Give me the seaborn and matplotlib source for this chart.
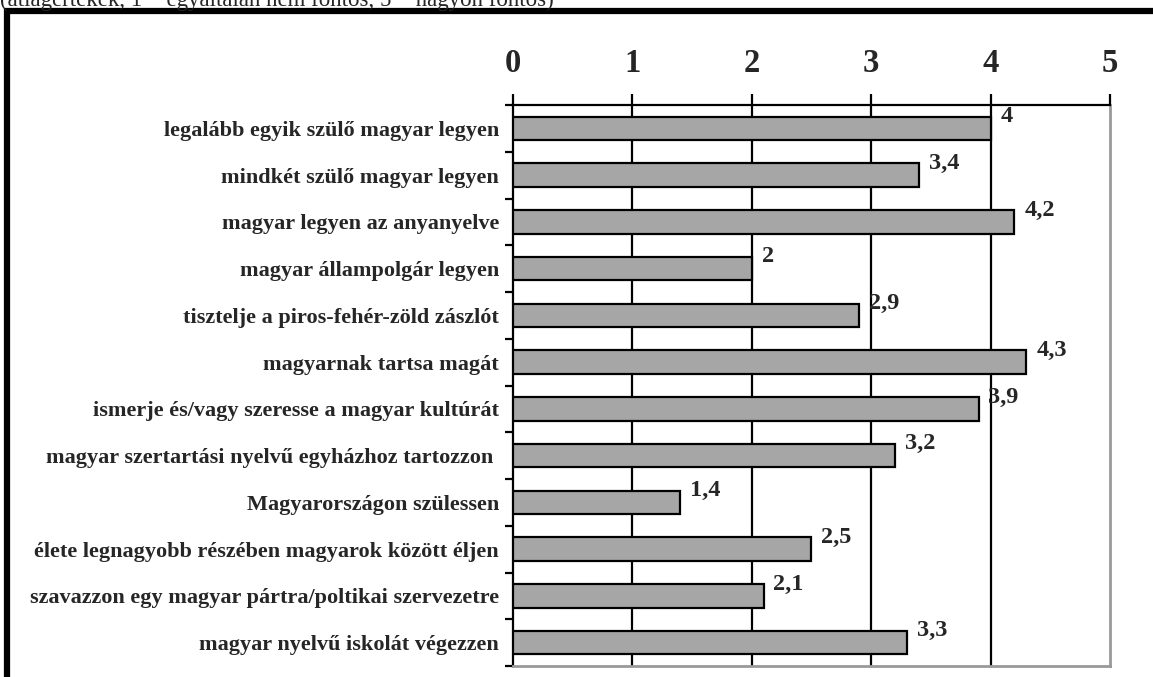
import matplotlib
matplotlib.use("Agg")
import matplotlib.pyplot as plt
import seaborn as sns
import pandas as pd
from matplotlib.patches import Rectangle
from matplotlib.ticker import FixedLocator

categories = [
    "legalább egyik szülő magyar legyen",
    "mindkét szülő magyar legyen",
    "magyar legyen az anyanyelve",
    "magyar állampolgár legyen",
    "tisztelje a piros-fehér-zöld zászlót",
    "magyarnak tartsa magát",
    "ismerje és/vagy szeresse a magyar kultúrát",
    "magyar szertartási nyelvű egyházhoz tartozzon ",
    "Magyarországon szülessen",
    "élete legnagyobb részében magyarok között éljen",
    "szavazzon egy magyar pártra/poltikai szervezetre",
    "magyar nyelvű iskolát végezzen",
]
values = [4, 3.4, 4.2, 2, 2.9, 4.3, 3.9, 3.2, 1.4, 2.5, 2.1, 3.3]
value_labels = ["4", "3,4", "4,2", "2", "2,9", "4,3", "3,9", "3,2", "1,4", "2,5", "2,1", "3,3"]
x_ticks = [0, 1, 2, 3, 4, 5]
caption = "(átlagértékek, 1 = egyáltalán nem fontos, 5 = nagyon fontos)"

sns.set_theme(style="white")
plt.rcParams['font.family'] = ['Liberation Serif', 'DejaVu Serif']

W, H = 1153, 677
fig = plt.figure(figsize=(W / 100, H / 100), dpi=100)
ax = fig.add_axes([513 / W, 1 - 666 / H, (1110 - 513) / W, (666 - 105) / H])

df = pd.DataFrame({"cat": categories, "val": values})
sns.barplot(data=df, y="cat", x="val", orient="h", color="#a6a6a6",
            saturation=1, edgecolor="black", linewidth=1.6, width=0.5, ax=ax, zorder=3)

ax.set_xlim(0, 5)
ax.set_ylim(len(categories) - 0.5, -0.5)
ax.set_xlabel("")
ax.set_ylabel("")

# vertical gridlines
for t in x_ticks[1:-1]:
    ax.axvline(t, color="black", lw=1.6, zorder=1)

# x axis on top
ax.xaxis.tick_top()
ax.set_xticks(x_ticks)
ax.set_xticklabels([str(t) for t in x_ticks], fontsize=23.5, fontweight="bold")
ax.tick_params(axis="x", which="major", direction="out", length=8, width=1.6,
               color="black", pad=11, bottom=False, top=True)

# y axis: labels at centers, ticks at boundaries
ax.set_yticks(range(len(categories)))
ax.set_yticklabels(categories, fontsize=16, fontweight="bold")
ax.tick_params(axis="y", which="major", length=0, pad=10, left=True)
ax.yaxis.set_minor_locator(FixedLocator([i - 0.5 for i in range(len(categories) + 1)]))
ax.tick_params(axis="y", which="minor", direction="out", length=6, width=1.6,
               color="black", left=True)

for s in ["top", "left"]:
    ax.spines[s].set_color("black")
    ax.spines[s].set_linewidth(1.6)
    ax.spines[s].set_visible(True)
for s in ["right", "bottom"]:
    ax.spines[s].set_color("#999999")
    ax.spines[s].set_linewidth(2)
    ax.spines[s].set_visible(True)

for i, (v, lab) in enumerate(zip(values, value_labels)):
    ax.annotate(lab, xy=(v, i - 0.25), xytext=(7, 0), textcoords="offset points",
                ha="left", va="center", fontsize=17.5, fontweight="bold", zorder=5)

# frame
fig.patches.append(Rectangle((7 / W, -0.2), 1.5, 1 - 11 / H + 0.2,
                             transform=fig.transFigure, fill=False,
                             edgecolor="black", linewidth=4.5))

fig.text(0, 1 - 6 / H, caption, fontsize=16.5, ha="left", va="baseline")

fig.savefig("out.png", dpi=100)
